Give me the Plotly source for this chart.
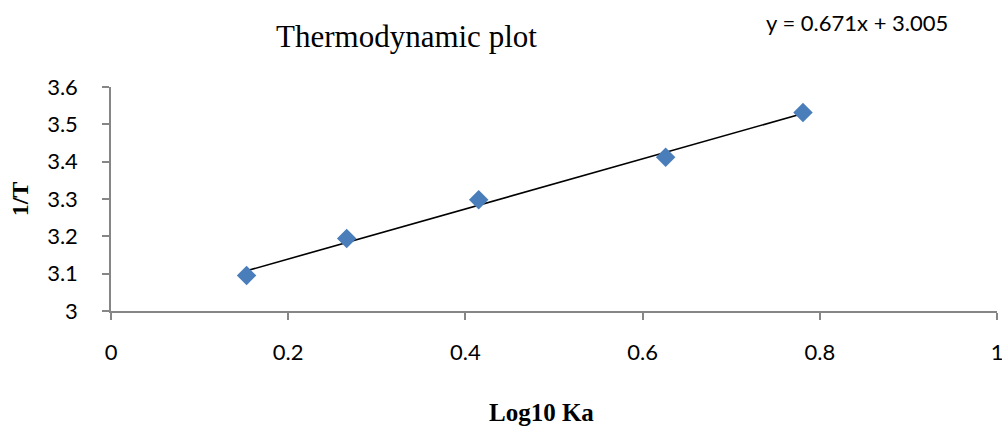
import plotly.graph_objects as go

# Data
log10_ka = [0.153, 0.266, 0.415, 0.626, 0.781]
inv_t = [3.095, 3.194, 3.298, 3.412, 3.532]
slope = 0.671
intercept = 3.005
x_ticks = [0, 0.2, 0.4, 0.6, 0.8, 1]
y_ticks = [3, 3.1, 3.2, 3.3, 3.4, 3.5, 3.6]

x_line = [min(log10_ka), max(log10_ka)]
y_line = [slope * v + intercept for v in x_line]

fig = go.Figure()
fig.add_trace(go.Scatter(
    x=x_line, y=y_line, mode="lines",
    line=dict(color="black", width=1.6), showlegend=False, hoverinfo="skip"))
fig.add_trace(go.Scatter(
    x=log10_ka, y=inv_t, mode="markers",
    marker=dict(symbol="diamond", size=15, color="#4A7EBB"), showlegend=False))

tick_font = dict(family="Lato", size=22, color="black")
fig.update_layout(
    width=1002, height=426,
    margin=dict(l=111, r=5, t=87, b=115),
    paper_bgcolor="white", plot_bgcolor="white",
    font=tick_font,
    xaxis=dict(range=[0, 1], tickvals=x_ticks, ticktext=[f"{v:g}" for v in x_ticks],
               showgrid=False, zeroline=False, showline=True, linecolor="#868686", linewidth=1.5,
               ticks="outside", ticklen=7, tickcolor="#868686", tickwidth=1.5,
               ticklabelstandoff=14, ticklabeloverflow="allow", automargin=False, tickfont=tick_font),
    yaxis=dict(range=[3, 3.6], tickvals=y_ticks, ticktext=[f"{v:g}" for v in y_ticks],
               showgrid=False, zeroline=False, showline=True, linecolor="#868686", linewidth=1.5,
               ticks="outside", ticklen=7, tickcolor="#868686", tickwidth=1.5,
               ticklabelstandoff=20, ticklabeloverflow="allow", automargin=False, tickfont=tick_font),
    annotations=[
        dict(text="Thermodynamic plot", xref="paper", yref="paper",
             x=(406 - 110.7) / 886, y=1 + (87 - 37) / 224, xanchor="center", yanchor="middle",
             showarrow=False, font=dict(family="Liberation Serif", size=31, color="black")),
        dict(text="y = 0.671x + 3.005", xref="paper", yref="paper",
             x=(856.5 - 110.7) / 886, y=1 + (87 - 22) / 224, xanchor="center", yanchor="middle",
             showarrow=False, font=tick_font),
        dict(text="<b>1/T</b>", xref="paper", yref="paper",
             x=(20 - 110.7) / 886, y=0.5, xanchor="center", yanchor="middle", textangle=-90,
             showarrow=False, font=dict(family="Liberation Serif", size=24, color="black")),
        dict(text="<b>Log10 Ka</b>", xref="paper", yref="paper",
             x=(541.5 - 110.7) / 886, y=-(412 - 310.7) / 224, xanchor="center", yanchor="middle",
             showarrow=False, font=dict(family="Liberation Serif", size=25, color="black")),
    ],
)

fig.write_html("out.html")
